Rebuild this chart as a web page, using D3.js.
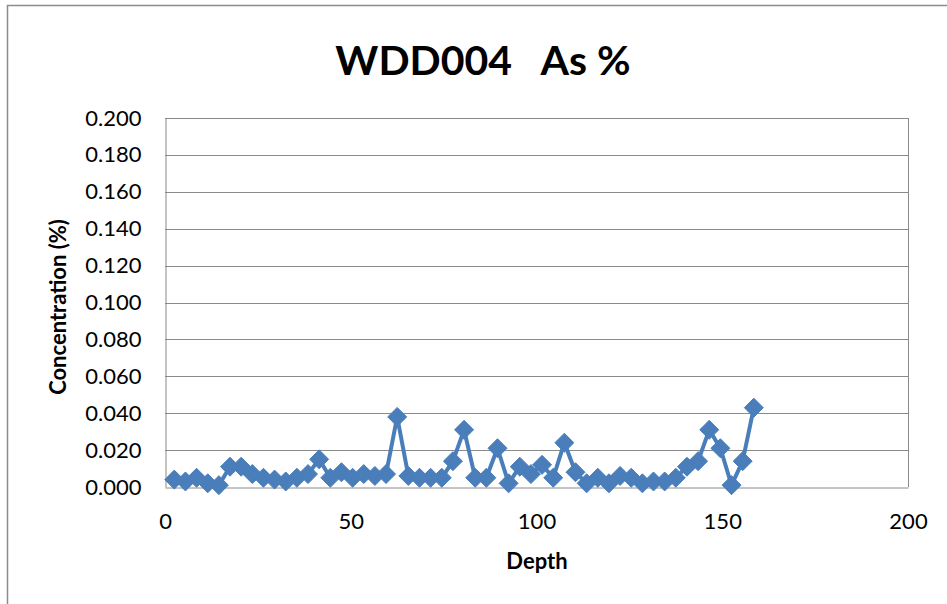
<!DOCTYPE html>
<html>
<head>
<meta charset="utf-8">
<script src="https://cdn.jsdelivr.net/npm/d3@7"></script>
<style>
  body { margin: 0; background: #fff; }
  svg { display: block; font-family: Lato, 'Open Sans', sans-serif; }
</style>
</head>
<body>
<script>
const title = 'WDD004   As %';
const xLabel = 'Depth';
const yLabel = 'Concentration (%)';

// depth (m) of each sample
const depths = [
  2.5, 5.5, 8.5, 11.5, 14.5, 17.5, 20.5, 23.5, 26.5, 29.5,
  32.5, 35.5, 38.5, 41.5, 44.5, 47.5, 50.5, 53.5, 56.5, 59.5,
  62.5, 65.5, 68.5, 71.5, 74.5, 77.5, 80.5, 83.5, 86.5, 89.5,
  92.5, 95.5, 98.5, 101.5, 104.5, 107.5, 110.5, 113.5, 116.5, 119.5,
  122.5, 125.5, 128.5, 131.5, 134.5, 137.5, 140.5, 143.5, 146.5, 149.5,
  152.5, 155.5, 158.5
];
// As concentration (%)
const asPct = [
  0.004, 0.003, 0.005, 0.002, 0.001, 0.011, 0.011, 0.007, 0.005, 0.004,
  0.003, 0.005, 0.007, 0.015, 0.005, 0.008, 0.005, 0.007, 0.006, 0.007,
  0.038, 0.006, 0.005, 0.005, 0.005, 0.014, 0.031, 0.005, 0.005, 0.021,
  0.002, 0.011, 0.007, 0.012, 0.005, 0.024, 0.008, 0.002, 0.005, 0.002,
  0.006, 0.005, 0.002, 0.003, 0.003, 0.005, 0.011, 0.014, 0.031, 0.021,
  0.001, 0.014, 0.043
];
const xTicks = [0, 50, 100, 150, 200];
const yTicks = [0, 0.02, 0.04, 0.06, 0.08, 0.1, 0.12, 0.14, 0.16, 0.18, 0.2];

const width = 947, height = 604;
const margin = { left: 165, right: 39, top: 118, bottom: 117 };
const blue = '#4a7ebb';

const svg = d3.select('body').append('svg')
  .attr('width', width)
  .attr('height', height);

// outer chart frame
svg.append('rect')
  .attr('x', 7.5).attr('y', 5.5)
  .attr('width', width + 10).attr('height', height + 10)
  .attr('fill', 'none').attr('stroke', '#8c8c8c').attr('stroke-width', 1.5);

const x = d3.scaleLinear().domain([0, 200]).range([margin.left, width - margin.right]);
const y = d3.scaleLinear().domain([0, 0.2]).range([height - margin.bottom, margin.top]);

// gridlines
svg.append('g')
  .selectAll('line')
  .data(yTicks.slice(1))
  .enter().append('line')
  .attr('x1', x(0)).attr('x2', x(200))
  .attr('y1', d => Math.round(y(d)) + 0.5).attr('y2', d => Math.round(y(d)) + 0.5)
  .attr('stroke', '#8a8a8a').attr('stroke-width', 1);

// plot area right edge
svg.append('line')
  .attr('x1', Math.round(x(200)) + 0.5).attr('x2', Math.round(x(200)) + 0.5)
  .attr('y1', y(0.2)).attr('y2', y(0))
  .attr('stroke', '#8a8a8a');

// axes
const yAxis = svg.append('g')
  .attr('transform', `translate(${Math.round(x(0)) + 0.5},0)`)
  .call(d3.axisLeft(y).tickValues(yTicks).tickFormat(d3.format('.3f')).tickSize(0).tickPadding(24));
const xAxis = svg.append('g')
  .attr('transform', `translate(0,${Math.round(y(0)) + 0.5})`)
  .call(d3.axisBottom(x).tickValues(xTicks).tickSize(0).tickPadding(26));

[xAxis, yAxis].forEach(g => {
  g.select('.domain').attr('stroke', '#8a8a8a');
  g.selectAll('text')
    .attr('fill', '#000')
    .style('font-size', '22px')
    .style('font-family', "Lato, 'Open Sans', sans-serif");
});

// series
const data = depths.map((d, i) => ({ depth: d, v: asPct[i] }));

svg.append('path')
  .datum(data)
  .attr('fill', 'none')
  .attr('stroke', blue)
  .attr('stroke-width', 4)
  .attr('stroke-linejoin', 'round')
  .attr('d', d3.line().x(d => x(d.depth)).y(d => y(d.v)));

const diamond = d3.symbol().type(d3.symbolDiamond2).size(230);
svg.append('g')
  .selectAll('path')
  .data(data)
  .enter().append('path')
  .attr('transform', d => `translate(${x(d.depth)},${y(d.v)})`)
  .attr('d', diamond)
  .attr('fill', blue)
  .attr('stroke', blue)
  .attr('stroke-width', 1);

// titles
svg.append('text')
  .attr('x', 483).attr('y', 75)
  .attr('text-anchor', 'middle')
  .style('font-size', '41px')
  .style('font-weight', 'bold')
  .style('white-space', 'pre')
  .text(title);

svg.append('text')
  .attr('x', 537).attr('y', 569)
  .attr('text-anchor', 'middle')
  .style('font-size', '22px')
  .style('font-weight', 'bold')
  .text(xLabel);

svg.append('text')
  .attr('transform', 'translate(66,307) rotate(-90)')
  .attr('text-anchor', 'middle')
  .style('font-size', '22px')
  .style('font-weight', 'bold')
  .text(yLabel);
</script>
</body>
</html>
